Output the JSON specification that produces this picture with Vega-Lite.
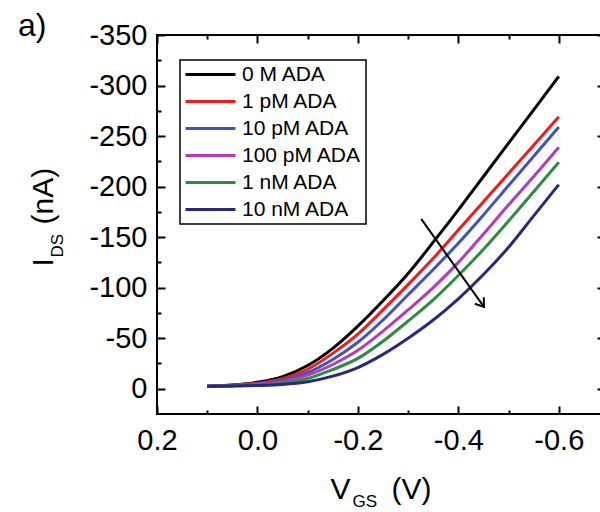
{
  "$schema": "https://vega.github.io/schema/vega-lite/v6.json",
  "width": 448,
  "height": 379,
  "autosize": {"type": "none"},
  "padding": {"left": 157, "top": 35, "right": 0, "bottom": 98},
  "background": "white",
  "config": {
    "view": {"stroke": "black", "strokeWidth": 2},
    "font": "Liberation Sans",
    "legend": {"strokeWidth": 1.5, "strokeColor": "black", "fillColor": "white", "padding": 4},
    "axis": {"grid": false, "domain": false, "tickColor": "black", "tickWidth": 2, "titleFont": "Liberation Sans", "titleFontWeight": "normal", "titleColor": "black", "titleAlign": "left", "titleBaseline": "alphabetic", "titleAnchor": null}
  },
  "title": {"text": "a)", "anchor": "start", "frame": "bounds", "fontSize": 32, "fontWeight": "normal", "font": "Liberation Sans", "color": "black", "dx": -10, "dy": 26},
  "datasets": {
    "curves": [
      {"V": 0.1, "I": -2.5, "s": "0 M ADA"}, {"V": 0.05, "I": -3.8, "s": "0 M ADA"}, {"V": 0, "I": -6.5, "s": "0 M ADA"}, {"V": -0.05, "I": -12, "s": "0 M ADA"}, {"V": -0.1, "I": -23, "s": "0 M ADA"}, {"V": -0.15, "I": -40, "s": "0 M ADA"}, {"V": -0.2, "I": -62, "s": "0 M ADA"}, {"V": -0.25, "I": -87, "s": "0 M ADA"}, {"V": -0.3, "I": -114, "s": "0 M ADA"}, {"V": -0.35, "I": -145, "s": "0 M ADA"}, {"V": -0.4, "I": -177, "s": "0 M ADA"}, {"V": -0.45, "I": -210, "s": "0 M ADA"}, {"V": -0.5, "I": -243, "s": "0 M ADA"}, {"V": -0.55, "I": -276, "s": "0 M ADA"}, {"V": -0.6, "I": -309, "s": "0 M ADA"},
      {"V": 0.1, "I": -2.5, "s": "1 pM ADA"}, {"V": 0.05, "I": -3.5, "s": "1 pM ADA"}, {"V": 0, "I": -5.5, "s": "1 pM ADA"}, {"V": -0.05, "I": -10, "s": "1 pM ADA"}, {"V": -0.1, "I": -19.3, "s": "1 pM ADA"}, {"V": -0.15, "I": -35, "s": "1 pM ADA"}, {"V": -0.2, "I": -54, "s": "1 pM ADA"}, {"V": -0.25, "I": -78, "s": "1 pM ADA"}, {"V": -0.3, "I": -103, "s": "1 pM ADA"}, {"V": -0.35, "I": -129, "s": "1 pM ADA"}, {"V": -0.4, "I": -157, "s": "1 pM ADA"}, {"V": -0.45, "I": -185, "s": "1 pM ADA"}, {"V": -0.5, "I": -213, "s": "1 pM ADA"}, {"V": -0.55, "I": -241, "s": "1 pM ADA"}, {"V": -0.6, "I": -269, "s": "1 pM ADA"},
      {"V": 0.1, "I": -2.5, "s": "10 pM ADA"}, {"V": 0.05, "I": -3.2, "s": "10 pM ADA"}, {"V": 0, "I": -4.8, "s": "10 pM ADA"}, {"V": -0.05, "I": -8.5, "s": "10 pM ADA"}, {"V": -0.1, "I": -16, "s": "10 pM ADA"}, {"V": -0.15, "I": -29, "s": "10 pM ADA"}, {"V": -0.2, "I": -46, "s": "10 pM ADA"}, {"V": -0.25, "I": -68, "s": "10 pM ADA"}, {"V": -0.3, "I": -93, "s": "10 pM ADA"}, {"V": -0.35, "I": -118, "s": "10 pM ADA"}, {"V": -0.4, "I": -144, "s": "10 pM ADA"}, {"V": -0.45, "I": -172, "s": "10 pM ADA"}, {"V": -0.5, "I": -201, "s": "10 pM ADA"}, {"V": -0.55, "I": -230, "s": "10 pM ADA"}, {"V": -0.6, "I": -259, "s": "10 pM ADA"},
      {"V": 0.1, "I": -2.5, "s": "100 pM ADA"}, {"V": 0.05, "I": -3.0, "s": "100 pM ADA"}, {"V": 0, "I": -4.2, "s": "100 pM ADA"}, {"V": -0.05, "I": -7, "s": "100 pM ADA"}, {"V": -0.1, "I": -13.4, "s": "100 pM ADA"}, {"V": -0.15, "I": -24, "s": "100 pM ADA"}, {"V": -0.2, "I": -38, "s": "100 pM ADA"}, {"V": -0.25, "I": -57, "s": "100 pM ADA"}, {"V": -0.3, "I": -78, "s": "100 pM ADA"}, {"V": -0.35, "I": -100, "s": "100 pM ADA"}, {"V": -0.4, "I": -125, "s": "100 pM ADA"}, {"V": -0.45, "I": -153, "s": "100 pM ADA"}, {"V": -0.5, "I": -182, "s": "100 pM ADA"}, {"V": -0.55, "I": -210, "s": "100 pM ADA"}, {"V": -0.6, "I": -239, "s": "100 pM ADA"},
      {"V": 0.1, "I": -2.5, "s": "1 nM ADA"}, {"V": 0.05, "I": -2.8, "s": "1 nM ADA"}, {"V": 0, "I": -3.6, "s": "1 nM ADA"}, {"V": -0.05, "I": -5.5, "s": "1 nM ADA"}, {"V": -0.1, "I": -10.1, "s": "1 nM ADA"}, {"V": -0.15, "I": -19, "s": "1 nM ADA"}, {"V": -0.2, "I": -30, "s": "1 nM ADA"}, {"V": -0.25, "I": -47, "s": "1 nM ADA"}, {"V": -0.3, "I": -67, "s": "1 nM ADA"}, {"V": -0.35, "I": -88, "s": "1 nM ADA"}, {"V": -0.4, "I": -112, "s": "1 nM ADA"}, {"V": -0.45, "I": -138, "s": "1 nM ADA"}, {"V": -0.5, "I": -166, "s": "1 nM ADA"}, {"V": -0.55, "I": -195, "s": "1 nM ADA"}, {"V": -0.6, "I": -224, "s": "1 nM ADA"},
      {"V": 0.1, "I": -2.5, "s": "10 nM ADA"}, {"V": 0.05, "I": -2.7, "s": "10 nM ADA"}, {"V": 0, "I": -3.2, "s": "10 nM ADA"}, {"V": -0.05, "I": -4.3, "s": "10 nM ADA"}, {"V": -0.1, "I": -7, "s": "10 nM ADA"}, {"V": -0.15, "I": -12.5, "s": "10 nM ADA"}, {"V": -0.2, "I": -21, "s": "10 nM ADA"}, {"V": -0.25, "I": -34, "s": "10 nM ADA"}, {"V": -0.3, "I": -50, "s": "10 nM ADA"}, {"V": -0.35, "I": -68, "s": "10 nM ADA"}, {"V": -0.4, "I": -89, "s": "10 nM ADA"}, {"V": -0.45, "I": -113, "s": "10 nM ADA"}, {"V": -0.5, "I": -140, "s": "10 nM ADA"}, {"V": -0.55, "I": -171, "s": "10 nM ADA"}, {"V": -0.6, "I": -202, "s": "10 nM ADA"}
    ],
    "arrow": [{"V": -0.326, "I": -168}, {"V": -0.451, "I": -81}],
    "head": [{"V": -0.451, "I": -81}]
  },
  "layer": [
    {
      "data": {"name": "curves"},
      "mark": {"type": "line", "interpolate": "monotone", "strokeWidth": 3},
      "encoding": {
        "x": {"field": "V", "type": "quantitative",
          "scale": {"domain": [-0.692, 0.2], "reverse": true, "nice": false, "zero": false},
          "axis": {"orient": "bottom", "offset": -8, "tickSize": 8, "values": [0.2, 0, -0.2, -0.4, -0.6], "format": ".1f", "labelExpr": "replace(datum.label, '\u2212', '-')",
            "labelFontSize": 29, "labelFont": "Liberation Sans", "labelColor": "black", "labelPadding": 12, "labelFlush": false,
            "title": "V", "titleFontSize": 30, "titleAngle": 0, "titleX": 173, "titleY": 92}},
        "y": {"field": "I", "type": "quantitative",
          "scale": {"domain": [-350, 25], "reverse": true, "nice": false, "zero": false},
          "axis": {"orient": "left", "offset": -8, "tickSize": 8, "values": [-350, -300, -250, -200, -150, -100, -50, 0], "format": "d", "labelExpr": "replace(datum.label, '\u2212', '-')",
            "labelFontSize": 29, "labelFont": "Liberation Sans", "labelColor": "black", "labelPadding": 10, "labelFlush": false,
            "title": "I", "titleFontSize": 30, "titleAngle": 270, "titleX": -113, "titleY": 231}},
        "color": {"field": "s", "type": "nominal",
          "scale": {"domain": ["0 M ADA", "1 pM ADA", "10 pM ADA", "100 pM ADA", "1 nM ADA", "10 nM ADA"],
                    "range": ["#000000", "#f01c1c", "#3f52c4", "#b43cb4", "#2e8c3e", "#28297c"]},
          "legend": {"title": null, "orient": "none", "legendX": 23, "legendY": 25, "symbolType": "stroke", "symbolSize": 2500, "symbolStrokeWidth": 3,
            "clipHeight": 21, "rowPadding": 5, "labelFontSize": 21, "labelFont": "Liberation Sans", "labelColor": "black", "labelOffset": 5, "labelLimit": 300}}
      }
    },
    {
      "data": {"name": "arrow"},
      "mark": {"type": "line", "color": "black", "strokeWidth": 2},
      "encoding": {
        "x": {"field": "V", "type": "quantitative", "scale": {"domain": [-0.692, 0.2], "reverse": true, "nice": false, "zero": false},
          "axis": {"orient": "top", "offset": -8, "tickSize": 8, "values": [0.2, 0, -0.2, -0.4, -0.6], "labels": false,
            "title": "(V)", "titleFontSize": 30, "titleAngle": 0, "titleX": 234, "titleY": 455}},
        "y": {"field": "I", "type": "quantitative", "scale": {"domain": [-350, 25], "reverse": true, "nice": false, "zero": false},
          "axis": {"orient": "right", "offset": -8, "tickSize": 8, "values": [-350, -300, -250, -200, -150, -100, -50, 0], "labels": false,
            "title": "(nA)", "titleFontSize": 30, "titleAngle": 270, "titleX": -545, "titleY": 189}}
      }
    },
    {
      "data": {"name": "head"},
      "mark": {"type": "point", "shape": "M -0.7 -1 L 0 0 L 0.7 -1", "filled": false, "stroke": "black", "strokeWidth": 2, "size": 250, "angle": 324, "opacity": 1},
      "encoding": {
        "x": {"field": "V", "type": "quantitative", "scale": {"domain": [-0.692, 0.2], "reverse": true, "nice": false, "zero": false},
          "axis": {"orient": "top", "offset": -4, "tickSize": 4, "values": [0.1, -0.1, -0.3, -0.5], "labels": false, "title": null}},
        "y": {"field": "I", "type": "quantitative", "scale": {"domain": [-350, 25], "reverse": true, "nice": false, "zero": false},
          "axis": {"orient": "right", "offset": -4, "tickSize": 4, "values": [-325, -275, -225, -175, -125, -75, -25], "labels": false, "title": null}}
      }
    },
    {
      "data": {"name": "head"},
      "mark": {"type": "point", "opacity": 0},
      "encoding": {
        "x": {"field": "V", "type": "quantitative", "scale": {"domain": [-0.692, 0.2], "reverse": true, "nice": false, "zero": false},
          "axis": {"orient": "bottom", "offset": -4, "tickSize": 4, "values": [0.1, -0.1, -0.3, -0.5], "labels": false,
            "title": "GS", "titleFontSize": 17, "titleAngle": 0, "titleX": 195, "titleY": 96}},
        "y": {"field": "I", "type": "quantitative", "scale": {"domain": [-350, 25], "reverse": true, "nice": false, "zero": false},
          "axis": {"orient": "left", "offset": -4, "tickSize": 4, "values": [-325, -275, -225, -175, -125, -75, -25], "labels": false,
            "title": "DS", "titleFontSize": 17, "titleAngle": 270, "titleX": -99, "titleY": 222}}
      }
    }
  ],
  "resolve": {"axis": {"x": "independent", "y": "independent"}}
}
